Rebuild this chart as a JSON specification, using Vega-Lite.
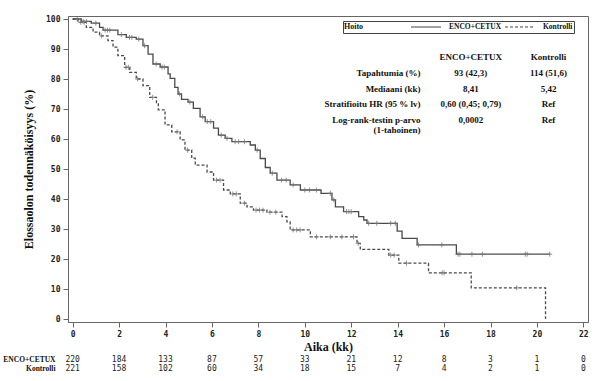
{
  "$schema": "https://vega.github.io/schema/vega-lite/v6.json",
  "width": 520,
  "height": 306,
  "autosize": {"type": "none"},
  "padding": {"left": 68, "top": 16, "right": 16, "bottom": 59},
  "background": "white",
  "config": {
    "view": {"stroke": "#666", "strokeWidth": 1},
    "font": "Liberation Serif",
    "axis": {
      "grid": false,
      "domainColor": "#666",
      "tickColor": "#666",
      "labelFont": "DejaVu Sans Mono",
      "labelFontWeight": "bold",
      "labelFontSize": 8,
      "labelColor": "#222",
      "labelOverlap": false,
      "titleFont": "Liberation Serif",
      "titleFontWeight": "bold",
      "titleFontSize": 12,
      "titleColor": "#111",
      "tickSize": 5
    }
  },
  "datasets": {
    "kayrat": [
      {"hoito": "ENCO+CETUX", "aika": 0, "elossa": 100},
      {"hoito": "ENCO+CETUX", "aika": 0.37, "elossa": 99.2},
      {"hoito": "ENCO+CETUX", "aika": 0.8, "elossa": 98.6},
      {"hoito": "ENCO+CETUX", "aika": 1.16, "elossa": 97.2},
      {"hoito": "ENCO+CETUX", "aika": 1.31, "elossa": 96.3},
      {"hoito": "ENCO+CETUX", "aika": 1.95, "elossa": 94.8},
      {"hoito": "ENCO+CETUX", "aika": 2.31, "elossa": 93.9},
      {"hoito": "ENCO+CETUX", "aika": 2.74, "elossa": 93.3},
      {"hoito": "ENCO+CETUX", "aika": 3.03, "elossa": 91.1},
      {"hoito": "ENCO+CETUX", "aika": 3.25, "elossa": 88.3},
      {"hoito": "ENCO+CETUX", "aika": 3.46, "elossa": 85},
      {"hoito": "ENCO+CETUX", "aika": 3.77, "elossa": 84},
      {"hoito": "ENCO+CETUX", "aika": 4.11, "elossa": 81.7},
      {"hoito": "ENCO+CETUX", "aika": 4.2, "elossa": 80.2},
      {"hoito": "ENCO+CETUX", "aika": 4.4, "elossa": 77.2},
      {"hoito": "ENCO+CETUX", "aika": 4.54, "elossa": 75},
      {"hoito": "ENCO+CETUX", "aika": 4.69, "elossa": 73.2},
      {"hoito": "ENCO+CETUX", "aika": 4.97, "elossa": 72.3},
      {"hoito": "ENCO+CETUX", "aika": 5.2, "elossa": 70.2},
      {"hoito": "ENCO+CETUX", "aika": 5.49, "elossa": 67.4},
      {"hoito": "ENCO+CETUX", "aika": 5.71, "elossa": 65.8},
      {"hoito": "ENCO+CETUX", "aika": 6.07, "elossa": 63.6},
      {"hoito": "ENCO+CETUX", "aika": 6.28, "elossa": 61.3},
      {"hoito": "ENCO+CETUX", "aika": 6.57, "elossa": 60.2},
      {"hoito": "ENCO+CETUX", "aika": 6.86, "elossa": 59.1},
      {"hoito": "ENCO+CETUX", "aika": 7.65, "elossa": 58},
      {"hoito": "ENCO+CETUX", "aika": 7.87, "elossa": 56.3},
      {"hoito": "ENCO+CETUX", "aika": 8.08, "elossa": 53.5},
      {"hoito": "ENCO+CETUX", "aika": 8.3, "elossa": 50.5},
      {"hoito": "ENCO+CETUX", "aika": 8.51, "elossa": 48.6},
      {"hoito": "ENCO+CETUX", "aika": 8.8, "elossa": 46.3},
      {"hoito": "ENCO+CETUX", "aika": 9.37, "elossa": 44.7},
      {"hoito": "ENCO+CETUX", "aika": 9.81, "elossa": 43},
      {"hoito": "ENCO+CETUX", "aika": 10.7, "elossa": 41.9},
      {"hoito": "ENCO+CETUX", "aika": 11.17, "elossa": 39.7},
      {"hoito": "ENCO+CETUX", "aika": 11.32, "elossa": 37.4},
      {"hoito": "ENCO+CETUX", "aika": 11.67, "elossa": 35.8},
      {"hoito": "ENCO+CETUX", "aika": 12.32, "elossa": 34.1},
      {"hoito": "ENCO+CETUX", "aika": 12.54, "elossa": 33},
      {"hoito": "ENCO+CETUX", "aika": 12.68, "elossa": 31.9},
      {"hoito": "ENCO+CETUX", "aika": 13.98, "elossa": 29.3},
      {"hoito": "ENCO+CETUX", "aika": 14.19, "elossa": 26.9},
      {"hoito": "ENCO+CETUX", "aika": 14.84, "elossa": 24.7},
      {"hoito": "ENCO+CETUX", "aika": 16.53, "elossa": 21.6},
      {"hoito": "ENCO+CETUX", "aika": 20.55, "elossa": 21.6},
      {"hoito": "Kontrolli", "aika": 0, "elossa": 100},
      {"hoito": "Kontrolli", "aika": 0.23, "elossa": 98.9},
      {"hoito": "Kontrolli", "aika": 0.59, "elossa": 97.2},
      {"hoito": "Kontrolli", "aika": 0.88, "elossa": 95.6},
      {"hoito": "Kontrolli", "aika": 1.16, "elossa": 94.4},
      {"hoito": "Kontrolli", "aika": 1.52, "elossa": 92.8},
      {"hoito": "Kontrolli", "aika": 1.74, "elossa": 90.6},
      {"hoito": "Kontrolli", "aika": 1.95, "elossa": 87.8},
      {"hoito": "Kontrolli", "aika": 2.24, "elossa": 83.9},
      {"hoito": "Kontrolli", "aika": 2.46, "elossa": 82.2},
      {"hoito": "Kontrolli", "aika": 2.74, "elossa": 80},
      {"hoito": "Kontrolli", "aika": 3.03, "elossa": 77.8},
      {"hoito": "Kontrolli", "aika": 3.32, "elossa": 73.9},
      {"hoito": "Kontrolli", "aika": 3.61, "elossa": 71.7},
      {"hoito": "Kontrolli", "aika": 3.69, "elossa": 69.7},
      {"hoito": "Kontrolli", "aika": 3.98, "elossa": 64.7},
      {"hoito": "Kontrolli", "aika": 4.27, "elossa": 62.4},
      {"hoito": "Kontrolli", "aika": 4.63, "elossa": 59.7},
      {"hoito": "Kontrolli", "aika": 4.84, "elossa": 56.3},
      {"hoito": "Kontrolli", "aika": 5.13, "elossa": 53.6},
      {"hoito": "Kontrolli", "aika": 5.28, "elossa": 51.3},
      {"hoito": "Kontrolli", "aika": 5.79, "elossa": 49},
      {"hoito": "Kontrolli", "aika": 6.07, "elossa": 46.3},
      {"hoito": "Kontrolli", "aika": 6.5, "elossa": 43},
      {"hoito": "Kontrolli", "aika": 6.79, "elossa": 41.7},
      {"hoito": "Kontrolli", "aika": 7.22, "elossa": 38.6},
      {"hoito": "Kontrolli", "aika": 7.51, "elossa": 37.4},
      {"hoito": "Kontrolli", "aika": 7.79, "elossa": 36.3},
      {"hoito": "Kontrolli", "aika": 8.37, "elossa": 35.6},
      {"hoito": "Kontrolli", "aika": 9.02, "elossa": 34.1},
      {"hoito": "Kontrolli", "aika": 9.23, "elossa": 32.4},
      {"hoito": "Kontrolli", "aika": 9.37, "elossa": 29.7},
      {"hoito": "Kontrolli", "aika": 10.24, "elossa": 27.4},
      {"hoito": "Kontrolli", "aika": 12.25, "elossa": 25.2},
      {"hoito": "Kontrolli", "aika": 12.39, "elossa": 23.2},
      {"hoito": "Kontrolli", "aika": 13.62, "elossa": 21.3},
      {"hoito": "Kontrolli", "aika": 14.05, "elossa": 18.6},
      {"hoito": "Kontrolli", "aika": 15.33, "elossa": 15.4},
      {"hoito": "Kontrolli", "aika": 17.17, "elossa": 10.4},
      {"hoito": "Kontrolli", "aika": 20.37, "elossa": 0}
    ],
    "sensuurit": [
      {"hoito": "ENCO+CETUX", "aika": 0.2, "elossa": 100},
      {"hoito": "ENCO+CETUX", "aika": 0.45, "elossa": 99.2},
      {"hoito": "ENCO+CETUX", "aika": 0.6, "elossa": 99.2},
      {"hoito": "ENCO+CETUX", "aika": 1.0, "elossa": 98.6},
      {"hoito": "ENCO+CETUX", "aika": 1.4, "elossa": 96.3},
      {"hoito": "ENCO+CETUX", "aika": 1.5, "elossa": 96.3},
      {"hoito": "ENCO+CETUX", "aika": 1.6, "elossa": 96.3},
      {"hoito": "ENCO+CETUX", "aika": 2.1, "elossa": 94.8},
      {"hoito": "ENCO+CETUX", "aika": 2.45, "elossa": 93.9},
      {"hoito": "ENCO+CETUX", "aika": 2.55, "elossa": 93.9},
      {"hoito": "ENCO+CETUX", "aika": 2.85, "elossa": 93.3},
      {"hoito": "ENCO+CETUX", "aika": 3.1, "elossa": 91.1},
      {"hoito": "ENCO+CETUX", "aika": 3.6, "elossa": 85},
      {"hoito": "ENCO+CETUX", "aika": 3.85, "elossa": 84},
      {"hoito": "ENCO+CETUX", "aika": 3.95, "elossa": 84},
      {"hoito": "ENCO+CETUX", "aika": 4.6, "elossa": 75},
      {"hoito": "ENCO+CETUX", "aika": 5.05, "elossa": 72.3},
      {"hoito": "ENCO+CETUX", "aika": 5.6, "elossa": 67.4},
      {"hoito": "ENCO+CETUX", "aika": 5.8, "elossa": 65.8},
      {"hoito": "ENCO+CETUX", "aika": 5.95, "elossa": 65.8},
      {"hoito": "ENCO+CETUX", "aika": 6.4, "elossa": 61.3},
      {"hoito": "ENCO+CETUX", "aika": 6.65, "elossa": 60.2},
      {"hoito": "ENCO+CETUX", "aika": 7.0, "elossa": 59.1},
      {"hoito": "ENCO+CETUX", "aika": 7.15, "elossa": 59.1},
      {"hoito": "ENCO+CETUX", "aika": 7.4, "elossa": 59.1},
      {"hoito": "ENCO+CETUX", "aika": 7.95, "elossa": 56.3},
      {"hoito": "ENCO+CETUX", "aika": 8.6, "elossa": 48.6},
      {"hoito": "ENCO+CETUX", "aika": 9.0, "elossa": 46.3},
      {"hoito": "ENCO+CETUX", "aika": 9.2, "elossa": 46.3},
      {"hoito": "ENCO+CETUX", "aika": 9.5, "elossa": 44.7},
      {"hoito": "ENCO+CETUX", "aika": 10.0, "elossa": 43},
      {"hoito": "ENCO+CETUX", "aika": 10.2, "elossa": 43},
      {"hoito": "ENCO+CETUX", "aika": 10.5, "elossa": 43},
      {"hoito": "ENCO+CETUX", "aika": 11.1, "elossa": 41.9},
      {"hoito": "ENCO+CETUX", "aika": 11.25, "elossa": 39.7},
      {"hoito": "ENCO+CETUX", "aika": 11.8, "elossa": 35.8},
      {"hoito": "ENCO+CETUX", "aika": 11.9, "elossa": 35.8},
      {"hoito": "ENCO+CETUX", "aika": 12.0, "elossa": 35.8},
      {"hoito": "ENCO+CETUX", "aika": 12.75, "elossa": 31.9},
      {"hoito": "ENCO+CETUX", "aika": 13.1, "elossa": 31.9},
      {"hoito": "ENCO+CETUX", "aika": 13.7, "elossa": 31.9},
      {"hoito": "ENCO+CETUX", "aika": 13.9, "elossa": 31.9},
      {"hoito": "ENCO+CETUX", "aika": 14.9, "elossa": 24.7},
      {"hoito": "ENCO+CETUX", "aika": 15.9, "elossa": 24.7},
      {"hoito": "ENCO+CETUX", "aika": 16.6, "elossa": 21.6},
      {"hoito": "ENCO+CETUX", "aika": 16.68, "elossa": 21.6},
      {"hoito": "ENCO+CETUX", "aika": 17.2, "elossa": 21.6},
      {"hoito": "ENCO+CETUX", "aika": 17.65, "elossa": 21.6},
      {"hoito": "ENCO+CETUX", "aika": 19.5, "elossa": 21.6},
      {"hoito": "ENCO+CETUX", "aika": 19.58, "elossa": 21.6},
      {"hoito": "ENCO+CETUX", "aika": 20.55, "elossa": 21.6},
      {"hoito": "Kontrolli", "aika": 0.35, "elossa": 98.9},
      {"hoito": "Kontrolli", "aika": 0.5, "elossa": 98.9},
      {"hoito": "Kontrolli", "aika": 1.25, "elossa": 94.4},
      {"hoito": "Kontrolli", "aika": 2.3, "elossa": 83.9},
      {"hoito": "Kontrolli", "aika": 2.4, "elossa": 83.9},
      {"hoito": "Kontrolli", "aika": 2.8, "elossa": 80},
      {"hoito": "Kontrolli", "aika": 3.45, "elossa": 73.9},
      {"hoito": "Kontrolli", "aika": 4.5, "elossa": 62.4},
      {"hoito": "Kontrolli", "aika": 4.95, "elossa": 56.3},
      {"hoito": "Kontrolli", "aika": 6.2, "elossa": 46.3},
      {"hoito": "Kontrolli", "aika": 6.35, "elossa": 46.3},
      {"hoito": "Kontrolli", "aika": 6.9, "elossa": 41.7},
      {"hoito": "Kontrolli", "aika": 7.05, "elossa": 41.7},
      {"hoito": "Kontrolli", "aika": 7.4, "elossa": 38.6},
      {"hoito": "Kontrolli", "aika": 7.9, "elossa": 36.3},
      {"hoito": "Kontrolli", "aika": 8.05, "elossa": 36.3},
      {"hoito": "Kontrolli", "aika": 8.2, "elossa": 36.3},
      {"hoito": "Kontrolli", "aika": 8.5, "elossa": 35.6},
      {"hoito": "Kontrolli", "aika": 8.75, "elossa": 35.6},
      {"hoito": "Kontrolli", "aika": 9.5, "elossa": 29.7},
      {"hoito": "Kontrolli", "aika": 9.65, "elossa": 29.7},
      {"hoito": "Kontrolli", "aika": 9.8, "elossa": 29.7},
      {"hoito": "Kontrolli", "aika": 10.5, "elossa": 27.4},
      {"hoito": "Kontrolli", "aika": 11.1, "elossa": 27.4},
      {"hoito": "Kontrolli", "aika": 11.6, "elossa": 27.4},
      {"hoito": "Kontrolli", "aika": 12.1, "elossa": 27.4},
      {"hoito": "Kontrolli", "aika": 12.3, "elossa": 25.2},
      {"hoito": "Kontrolli", "aika": 13.7, "elossa": 21.3},
      {"hoito": "Kontrolli", "aika": 13.85, "elossa": 21.3},
      {"hoito": "Kontrolli", "aika": 14.38, "elossa": 18.6},
      {"hoito": "Kontrolli", "aika": 15.92, "elossa": 15.4},
      {"hoito": "Kontrolli", "aika": 16.0, "elossa": 15.4},
      {"hoito": "Kontrolli", "aika": 19.13, "elossa": 10.4}
    ],
    "taulukko": [
      {"rivi": 0, "nimi": "", "enco": "ENCO+CETUX", "kontrolli": "Kontrolli"},
      {"rivi": 1, "nimi": "Tapahtumia (%)", "enco": "93 (42,3)", "kontrolli": "114 (51,6)"},
      {"rivi": 2, "nimi": "Mediaani (kk)", "enco": "8,41", "kontrolli": "5,42"},
      {"rivi": 3, "nimi": "Stratifioitu HR (95 % lv)", "enco": "0,60 (0,45; 0,79)", "kontrolli": "Ref"},
      {"rivi": 4, "nimi": "Log-rank-testin p-arvo\n(1-tahoinen)", "enco": "0,0002", "kontrolli": "Ref"}
    ],
    "riski": [
      {"hoito": "ENCO+CETUX", "aika": 0, "n": 220},
      {"hoito": "ENCO+CETUX", "aika": 2, "n": 184},
      {"hoito": "ENCO+CETUX", "aika": 4, "n": 133},
      {"hoito": "ENCO+CETUX", "aika": 6, "n": 87},
      {"hoito": "ENCO+CETUX", "aika": 8, "n": 57},
      {"hoito": "ENCO+CETUX", "aika": 10, "n": 33},
      {"hoito": "ENCO+CETUX", "aika": 12, "n": 21},
      {"hoito": "ENCO+CETUX", "aika": 14, "n": 12},
      {"hoito": "ENCO+CETUX", "aika": 16, "n": 8},
      {"hoito": "ENCO+CETUX", "aika": 18, "n": 3},
      {"hoito": "ENCO+CETUX", "aika": 20, "n": 1},
      {"hoito": "ENCO+CETUX", "aika": 22, "n": 0},
      {"hoito": "Kontrolli", "aika": 0, "n": 221},
      {"hoito": "Kontrolli", "aika": 2, "n": 158},
      {"hoito": "Kontrolli", "aika": 4, "n": 102},
      {"hoito": "Kontrolli", "aika": 6, "n": 60},
      {"hoito": "Kontrolli", "aika": 8, "n": 34},
      {"hoito": "Kontrolli", "aika": 10, "n": 18},
      {"hoito": "Kontrolli", "aika": 12, "n": 15},
      {"hoito": "Kontrolli", "aika": 14, "n": 7},
      {"hoito": "Kontrolli", "aika": 16, "n": 4},
      {"hoito": "Kontrolli", "aika": 18, "n": 2},
      {"hoito": "Kontrolli", "aika": 20, "n": 1},
      {"hoito": "Kontrolli", "aika": 22, "n": 0}
    ]
  },
  "layer": [
    {
      "layer": [
        {
          "data": {"name": "kayrat"},
          "mark": {"type": "line", "interpolate": "step-after", "stroke": "#4a4a4a", "strokeWidth": 1.3},
          "encoding": {
            "x": {
              "field": "aika", "type": "quantitative",
              "scale": {"domain": [-0.2, 22.2], "nice": false, "zero": false},
              "axis": {"values": [0, 2, 4, 6, 8, 10, 12, 14, 16, 18, 20, 22], "title": "Aika (kk)", "labelPadding": 3, "titlePadding": 3}
            },
            "y": {
              "field": "elossa", "type": "quantitative",
              "scale": {"domain": [-1, 101], "nice": false},
              "axis": {"values": [0, 10, 20, 30, 40, 50, 60, 70, 80, 90, 100], "tickCount": 11, "labelOverlap": false, "title": "Elossaolon todennäköisyys (%)", "titlePadding": 10, "labelPadding": 3}
            },
            "strokeDash": {
              "field": "hoito", "type": "nominal",
              "scale": {"domain": ["ENCO+CETUX", "Kontrolli"], "range": [[1, 0], [3, 2]]},
              "legend": {
                "title": "Hoito",
                "orient": "none",
                "legendX": 275,
                "legendY": 5,
                "direction": "horizontal",
                "titleOrient": "left",
                "titleFont": "Liberation Serif",
                "titleFontSize": 8,
                "titleFontWeight": "bold",
                "titleColor": "#111",
                "titlePadding": 46,
                "labelFont": "Liberation Serif",
                "labelFontSize": 7.5,
                "labelFontWeight": "bold",
                "labelColor": "#111",
                "symbolType": "stroke",
                "symbolSize": 900,
                "symbolStrokeWidth": 1.2,
                "symbolStrokeColor": "#444",
                "symbolOffset": 0,
                "labelOffset": 7,
                "clipHeight": 10,
                "columnPadding": 2,
                "padding": 1,
                "strokeColor": "#444",
                "fillColor": "white"
              }
            }
          }
        },
        {
          "data": {"name": "sensuurit"},
          "mark": {"type": "point", "shape": "M0,-1V1M-1,0H1", "size": 25, "filled": false, "stroke": "#777", "strokeWidth": 0.8, "opacity": 1},
          "encoding": {
            "x": {"field": "aika", "type": "quantitative"},
            "y": {"field": "elossa", "type": "quantitative"}
          }
        }
      ]
    },
    {
      "data": {"name": "taulukko"},
      "encoding": {
        "y": {"field": "rivi", "type": "quantitative", "scale": {"domain": [0, 4], "range": [37, 100]}, "axis": null}
      },
      "layer": [
        {
          "mark": {"type": "text", "font": "Liberation Serif", "fontWeight": "bold", "fontSize": 9, "align": "right", "baseline": "top", "lineBreak": "\n", "lineHeight": 10, "color": "#111"},
          "encoding": {"x": {"datum": 14.98, "type": "quantitative"}, "text": {"field": "nimi"}}
        },
        {
          "mark": {"type": "text", "font": "Liberation Serif", "fontWeight": "bold", "fontSize": 9, "align": "center", "baseline": "top", "color": "#111"},
          "encoding": {"x": {"datum": 17.15, "type": "quantitative"}, "text": {"field": "enco"}}
        },
        {
          "mark": {"type": "text", "font": "Liberation Serif", "fontWeight": "bold", "fontSize": 9, "align": "center", "baseline": "top", "color": "#111"},
          "encoding": {"x": {"datum": 20.5, "type": "quantitative"}, "text": {"field": "kontrolli"}}
        }
      ]
    },
    {
      "data": {"name": "riski"},
      "mark": {"type": "text", "font": "DejaVu Sans Mono", "fontSize": 8, "align": "center", "baseline": "middle", "color": "#222"},
      "encoding": {
        "x": {"field": "aika", "type": "quantitative"},
        "y": {
          "field": "hoito", "type": "nominal",
          "scale": {"type": "point", "domain": ["ENCO+CETUX", "Kontrolli"], "range": [343.5, 352.5], "padding": 0},
          "axis": {"orient": "left", "title": null, "domain": false, "ticks": false, "tickSize": 0, "labelPadding": 13, "labelFont": "Liberation Serif", "labelFontWeight": "bold", "labelFontSize": 7.5, "labelColor": "#111"}
        },
        "text": {"field": "n"}
      }
    }
  ],
  "resolve": {"scale": {"y": "independent"}}
}
